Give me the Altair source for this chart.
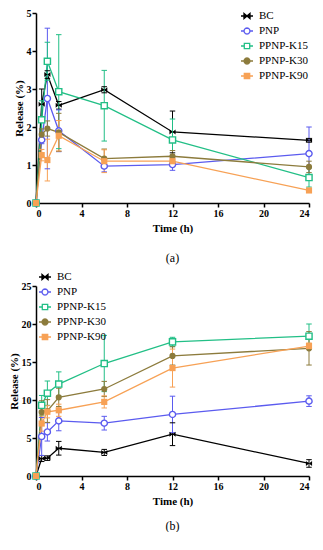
import altair as alt
import pandas as pd

times = [0, 0.5, 1, 2, 6, 12, 24]
series = ["BC", "PNP", "PPNP-K15", "PPNP-K30", "PPNP-K90"]
colors = ["#000000", "#5b5bef", "#22bf86", "#8c7b3c", "#f7a155"]

# panel (a)
a_bc = [0, 2.6, 3.38, 2.57, 2.98, 1.87, 1.65]
a_bc_e = [0, 0.4, 0.1, 0.1, 0.08, 0.55, 0.05]
a_pnp = [0, 1.66, 2.75, 1.9, 0.97, 1.01, 1.3]
a_pnp_e = [0, 0.1, 1.85, 0.55, 0.15, 0.15, 0.7]
a_k15 = [0, 2.19, 3.73, 2.93, 2.56, 1.66, 0.67]
a_k15_e = [0, 0.5, 0.5, 1.5, 0.93, 0.55, 0.25]
a_k30 = [0, 1.8, 1.96, 1.86, 1.17, 1.23, 0.95]
a_k30_e = [0, 0.15, 0.2, 0.5, 0.25, 0.15, 0.15]
a_k90 = [0, 1.26, 1.13, 1.77, 1.1, 1.1, 0.33]
a_k90_e = [0, 0.15, 0.55, 0.4, 0.3, 0.1, 0.05]

# panel (b)
b_bc = [0, 2.3, 2.35, 3.65, 3.1, 5.5, 1.65]
b_bc_e = [0, 0.4, 0.3, 0.9, 0.4, 1.5, 0.5]
b_pnp = [0, 5.2, 5.8, 7.25, 6.95, 8.1, 9.85]
b_pnp_e = [0, 2.5, 1.2, 1.3, 0.9, 2.4, 0.7]
b_k15 = [0, 9.3, 10.9, 12.1, 14.8, 17.65, 18.4]
b_k15_e = [0, 1.3, 1.6, 1.6, 3.7, 0.6, 1.6]
b_k30 = [0, 8.4, 8.55, 10.35, 11.45, 15.8, 16.8]
b_k30_e = [0, 1.5, 1.5, 1.2, 1.0, 1.2, 2.2]
b_k90 = [0, 6.9, 8.45, 8.65, 9.75, 14.2, 17.1]
b_k90_e = [0, 1.0, 0.8, 0.8, 0.8, 2.5, 0.4]

x_ticks = [0, 4, 8, 12, 16, 20, 24]

FONT = "Liberation Serif"

_c = [(0.5, 0), (0.433, 0.25), (0.25, 0.433), (0, 0.5), (-0.25, 0.433), (-0.433, 0.25),
      (-0.5, 0), (-0.433, -0.25), (-0.25, -0.433), (0, -0.5), (0.25, -0.433), (0.433, -0.25)]
CIRC = "M" + "L".join(f"{px},{py}" for px, py in _c) + "Z"

# legend symbols: a short line through the marker
leg_paths = [
    "M-1,0L1,0M-0.5,-0.42L0.5,0.42L0.5,-0.42L-0.5,0.42Z",
    "M-1,0L-0.5,0M0.5,0L1,0" + CIRC,
    "M-1,0L-0.45,0M0.45,0L1,0M-0.45,-0.45L0.45,-0.45L0.45,0.45L-0.45,0.45Z",
    "M-1,0L-0.5,0M0.5,0L1,0" + CIRC,
    "M-1,0L-0.45,0M0.45,0L1,0M-0.45,-0.45L0.45,-0.45L0.45,0.45L-0.45,0.45Z",
]
leg_fills = ["#000000", "white", "white", "#8c7b3c", "#f7a155"]

# plot markers
pt_shapes = ["M-1,-0.8L1,0.8L1,-0.8L-1,0.8Z", "circle", "square", "circle", "square"]
pt_open = [False, True, True, False, False]


def make_df(vals, errs):
    rows = []
    for name, v, e in zip(series, vals, errs):
        for t, vv, ee in zip(times, v, e):
            rows.append({"t": t, "v": vv, "e": ee, "s": name})
    return pd.DataFrame(rows)


def panel(df, ymax, ystep, legx, legy, caption, h):
    base = alt.Chart(df)
    yaxis = alt.Axis(values=list(range(0, ymax + 1, ystep)), title="Release (%)")
    x = alt.X("t:Q", scale=alt.Scale(domain=[0, 24], nice=False),
              axis=alt.Axis(values=x_ticks, title="Time (h)"))
    yscale = alt.Scale(domain=[0, ymax], nice=False)
    # stroke scale listed in reverse order so that its (disabled) legend is not merged
    stroke = alt.Stroke("s:N", scale=alt.Scale(domain=series[::-1], range=colors[::-1]),
                        legend=None)

    lines = base.mark_line(strokeWidth=1.3).encode(
        x=x, y=alt.Y("v:Q", scale=yscale, axis=yaxis), stroke=stroke)

    err = base.transform_filter("datum.e > 0").transform_calculate(
        lo="datum.v - datum.e", hi="datum.v + datum.e")
    rules = err.mark_rule(strokeWidth=1).encode(
        x=x, y=alt.Y("lo:Q", scale=yscale, axis=yaxis), y2="hi:Q", stroke=stroke)
    caps = err.transform_fold(["lo", "hi"], as_=["k", "yv"]).mark_point(
        shape="M-1,0L1,0", size=30, strokeWidth=1, opacity=1, filled=False).encode(
        x=x, y=alt.Y("yv:Q", scale=yscale, axis=yaxis), stroke=stroke)

    layers = [lines, rules, caps]
    for name, col, shp, op in zip(series, colors, pt_shapes, pt_open):
        if op:
            mk = base.mark_point(shape=shp, size=38, strokeWidth=1.4, stroke=col,
                                 fill="white", fillOpacity=1, opacity=1)
        else:
            mk = base.mark_point(shape=shp, size=38, filled=True, color=col, opacity=1)
        layers.append(mk.transform_filter(alt.datum.s == name).encode(
            x=x, y=alt.Y("v:Q", scale=yscale, axis=yaxis)))

    leg = alt.Legend(orient="none", legendX=legx, legendY=legy, title=None,
                     labelFont=FONT, labelFontSize=11, labelColor="black",
                     symbolSize=144, symbolStrokeWidth=1.3, rowPadding=2,
                     labelOffset=5)
    # legend carrier: its points lie far outside the y domain and are clipped away
    legend_layer = base.transform_calculate(hide="datum.v - 1000").mark_point(
        filled=False, strokeWidth=1.3, opacity=1, clip=True).encode(
        x=x, y=alt.Y("hide:Q", scale=yscale, axis=yaxis),
        color=alt.Color("s:N", scale=alt.Scale(domain=series, range=colors), legend=leg),
        fill=alt.Fill("s:N", scale=alt.Scale(domain=series, range=leg_fills), legend=leg),
        shape=alt.Shape("s:N", scale=alt.Scale(domain=series, range=leg_paths), legend=leg),
    )
    layers.append(legend_layer)

    return alt.layer(*layers).properties(
        width=273, height=h,
        title=alt.TitleParams(caption, orient="bottom", font=FONT, fontSize=12,
                              fontWeight="normal", frame="group", offset=h_off(caption)),
    )


def h_off(caption):
    return 20 if caption == "(a)" else 15


pa = panel(make_df([a_bc, a_pnp, a_k15, a_k30, a_k90],
                   [a_bc_e, a_pnp_e, a_k15_e, a_k30_e, a_k90_e]), 5, 1, 204, -4, "(a)", 190)
pb = panel(make_df([b_bc, b_pnp, b_k15, b_k30, b_k90],
                   [b_bc_e, b_pnp_e, b_k15_e, b_k30_e, b_k90_e]), 25, 5, 2, -16, "(b)", 190)

chart = alt.vconcat(pa, pb, spacing=6).resolve_scale(
    color="independent", fill="independent", shape="independent",
    stroke="independent", x="independent", y="independent"
).resolve_legend(color="independent", fill="independent", shape="independent"
).properties(padding={"left": 0, "top": 0, "right": 0, "bottom": 0}
).configure_view(stroke=None).configure_axis(
    labelFont=FONT, labelFontWeight="bold", labelFontSize=10, labelColor="black",
    titleFont=FONT, titleFontWeight="bold", titleFontSize=11, titleColor="black",
    domainColor="black", tickColor="black", domainWidth=1.5, tickWidth=1.5,
    tickSize=4, labelPadding=1, grid=False,
).configure_axisX(titlePadding=4).configure_axisY(titlePadding=2)

chart.save("out.html", embed_options={"renderer": "svg", "actions": False})
